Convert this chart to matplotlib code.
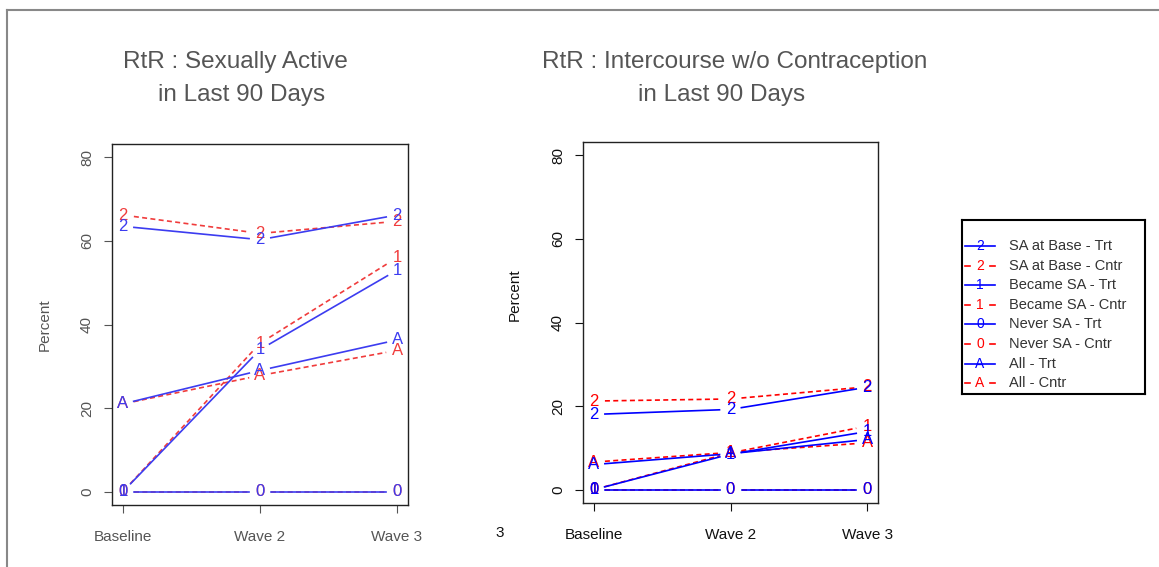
import numpy as np
import matplotlib
matplotlib.use('Agg')
import matplotlib.pyplot as plt
from matplotlib.lines import Line2D

plt.rcParams['font.family'] = ['Liberation Sans', 'DejaVu Sans']

waves = ['Baseline', 'Wave 2', 'Wave 3']
y_ticks = [0, 20, 40, 60, 80]

# series: (symbol, group) -> values per wave
sa_left = {
    ('2', 'Trt'): [63.5, 60.3, 66.2],
    ('2', 'Cntr'): [66.2, 61.8, 64.7],
    ('1', 'Trt'): [0.0, 34.0, 53.0],
    ('1', 'Cntr'): [0.0, 35.5, 56.0],
    ('0', 'Trt'): [0.0, 0.0, 0.0],
    ('0', 'Cntr'): [0.0, 0.0, 0.0],
    ('A', 'Trt'): [21.0, 29.0, 36.3],
    ('A', 'Cntr'): [21.0, 27.8, 33.8],
}
contra_right = {
    ('2', 'Trt'): [18.0, 19.2, 24.5],
    ('2', 'Cntr'): [21.2, 21.7, 24.6],
    ('1', 'Trt'): [0.0, 8.5, 13.9],
    ('1', 'Cntr'): [0.0, 8.8, 15.2],
    ('0', 'Trt'): [0.0, 0.0, 0.0],
    ('0', 'Cntr'): [0.0, 0.0, 0.0],
    ('A', 'Trt'): [6.0, 8.6, 12.0],
    ('A', 'Cntr'): [6.6, 8.9, 11.2],
}
legend_labels = ['SA at Base - Trt', 'SA at Base - Cntr', 'Became SA - Trt', 'Became SA - Cntr',
                 'Never SA - Trt', 'Never SA - Cntr', 'All - Trt', 'All - Cntr']
legend_syms = ['2', '2', '1', '1', '0', '0', 'A', 'A']

W, H = 1159, 567
fig = plt.figure(figsize=(W / 100, H / 100), dpi=100)
fig.patch.set_facecolor('white')


def fx(px):
    return px / W


def fy(py):
    return 1 - py / H


def draw_panel(ax, data, blue, red, txtcol, gap=11):
    x = np.arange(1, len(waves) + 1)
    ax.set_xlim(1 - 0.08, 3 + 0.08)
    ax.set_ylim(-3.2, 83.2)
    inv = ax.transData.inverted()
    # control group first so treatment symbols sit on top
    order = [k for k in data if k[1] == 'Cntr'] + [k for k in data if k[1] == 'Trt']
    for key in order:
        sym, grp = key
        vals = np.array(data[key])
        col = blue if grp == 'Trt' else red
        ls = '-' if grp == 'Trt' else (0, (3, 2))
        pts = ax.transData.transform(np.column_stack([x, vals]))
        # R type="b": segments stop short of the plotted symbol
        for i in range(len(pts) - 1):
            p0, p1 = pts[i], pts[i + 1]
            d = p1 - p0
            L = np.hypot(*d)
            seg = inv.transform(np.array([p0 + d * gap / L, p1 - d * gap / L]))
            ax.plot(seg[:, 0], seg[:, 1], color=col, lw=1.2, linestyle=ls)
        for xi, v in zip(x, vals):
            ax.text(xi, v, sym, color=col, fontsize=12, ha='center', va='center')
    ax.set_xticks(x)
    ax.set_xticklabels(waves)
    ax.set_yticks(y_ticks)
    ax.tick_params(axis='x', length=6, pad=12, labelsize=11, colors=txtcol)
    ax.tick_params(axis='y', length=6, pad=7, labelsize=11, colors=txtcol, labelrotation=90)
    for lab in ax.get_yticklabels():
        lab.set_va('center')
    for s in ax.spines.values():
        s.set_color('#222222')
        s.set_linewidth(1.0)


# left panel (faded in the original)
ax1 = fig.add_axes([fx(112), fy(505), fx(408 - 112), (505 - 144) / H])
draw_panel(ax1, sa_left, '#3c3cf0', '#f03c3c', '#555555')
fig.text(fx(45), fy(325), 'Percent', rotation=90, ha='center', va='center', fontsize=11, color='#555555')
fig.text(fx(235), fy(62), 'RtR : Sexually Active', ha='center', va='center', fontsize=17.5, color='#555555')
fig.text(fx(242), fy(95), 'in Last 90 Days', ha='center', va='center', fontsize=17.5, color='#555555')

# right panel
ax2 = fig.add_axes([fx(583), fy(503), fx(878 - 583), (503 - 142) / H])
draw_panel(ax2, contra_right, '#0000ff', '#ff0000', '#111111')
fig.text(fx(515), fy(295), 'Percent', rotation=90, ha='center', va='center', fontsize=11, color='#111111')
fig.text(fx(735), fy(62), 'RtR : Intercourse w/o Contraception', ha='center', va='center', fontsize=17.5, color='#555555')
fig.text(fx(722), fy(95), 'in Last 90 Days', ha='center', va='center', fontsize=17.5, color='#555555')

fig.text(fx(500), fy(533), '3', ha='center', va='center', fontsize=11, color='#111111')

# legend box drawn by hand, R style
lg = fig.add_axes([fx(962), fy(394), fx(1145 - 962), (394 - 220) / H])
lg.set_xlim(0, 183)
lg.set_ylim(174, 0)
lg.set_xticks([])
lg.set_yticks([])
for s in lg.spines.values():
    s.set_color('black')
    s.set_linewidth(1.5)
for i, (lab, sym) in enumerate(zip(legend_labels, legend_syms)):
    yy = 26 + i * 19.6
    if i % 2 == 0:
        col = '#0000ff'
        lg.plot([3, 33], [yy, yy], color=col, lw=1.2)
    else:
        col = '#ff0000'
        lg.plot([3, 8], [yy, yy], color=col, lw=1.2)
        lg.plot([28, 33], [yy, yy], color=col, lw=1.2)
    lg.text(18, yy, sym, color=col, fontsize=10, ha='center', va='center')
    lg.text(47, yy, lab, color='#333333', fontsize=10.5, ha='left', va='center')

# outer frame lines of the original page
fig.add_artist(Line2D([fx(7), 1], [fy(10), fy(10)], color='#888888', lw=1.5))
fig.add_artist(Line2D([fx(7), fx(7)], [fy(10), 0], color='#888888', lw=1.5))

fig.savefig('out.png', dpi=100)
